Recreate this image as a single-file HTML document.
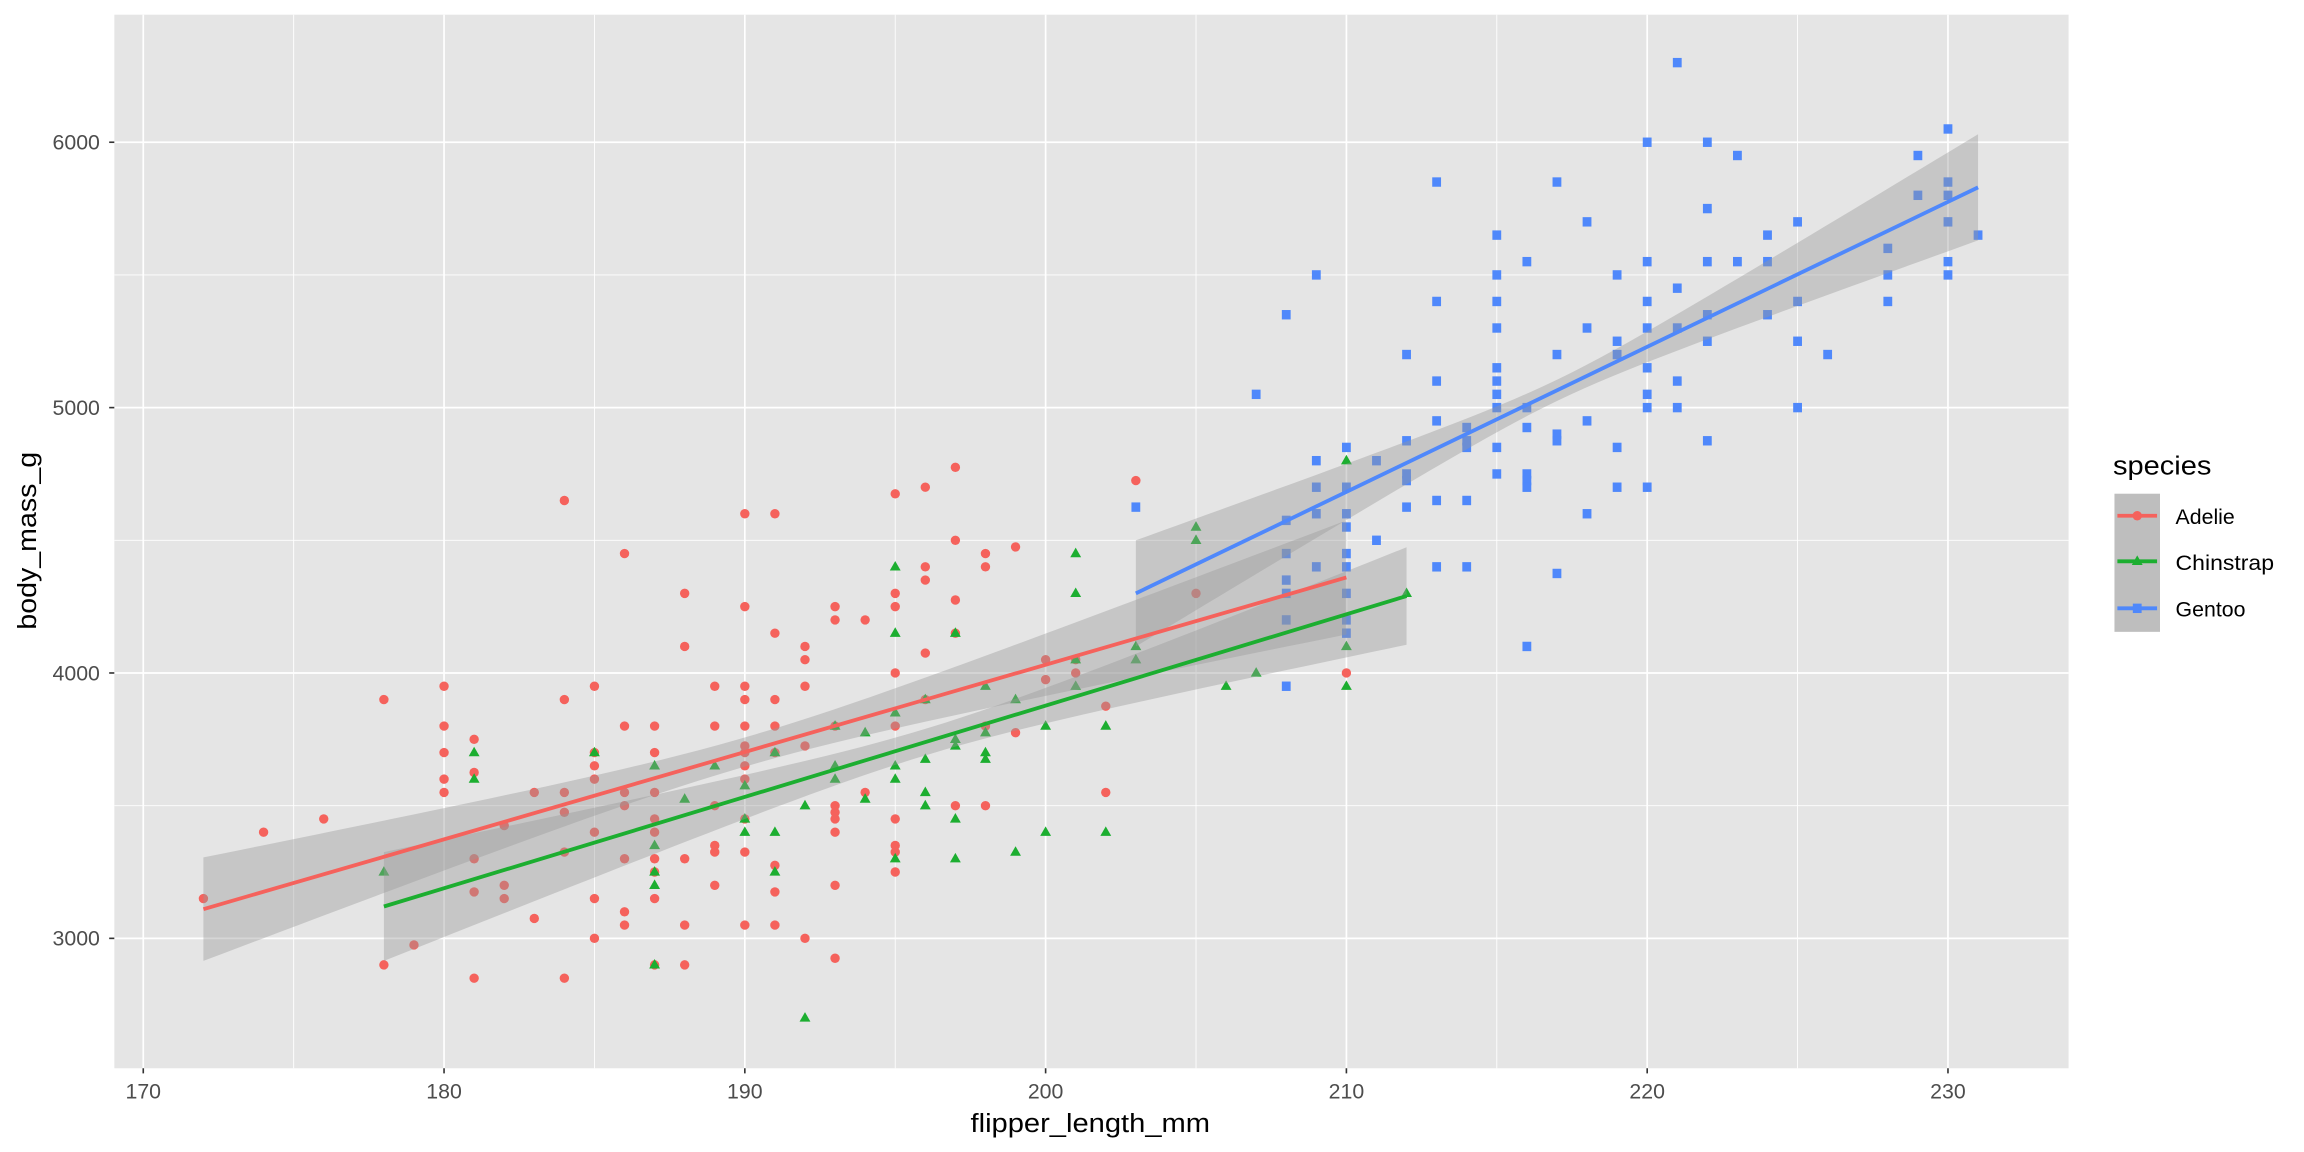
<!DOCTYPE html>
<html><head><meta charset="utf-8"><style>
html,body{margin:0;padding:0;background:#fff}
svg{display:block}
text{font-family:"Liberation Sans",Arial,sans-serif}
</style></head><body>
<svg id="s" width="2304" height="1152" viewBox="0 0 1568 784" xmlns="http://www.w3.org/2000/svg">
<rect x="0" y="0" width="1568" height="784" fill="#fff"/>
<rect x="77.8" y="10" width="1330" height="717" fill="#e5e5e5"/>
<g id="grid"></g>
<g id="pts"></g>
<g id="rib"></g>
<g id="lines"></g>
<g id="ticks" fill="#4d4d4d" font-size="14.5"></g>
<text x="742" y="770.5" font-size="17.5" text-anchor="middle" fill="#000" textLength="163" lengthAdjust="spacingAndGlyphs">flipper_length_mm</text>
<text transform="translate(24.5,368) rotate(-90)" font-size="17.5" text-anchor="middle" fill="#000" textLength="121" lengthAdjust="spacingAndGlyphs">body_mass_g</text>
<text x="1438" y="323" font-size="17.5" fill="#000" textLength="67" lengthAdjust="spacingAndGlyphs">species</text>
<rect x="1439" y="336" width="31" height="94" fill="#bebebe"/>
<g id="leg"></g>
<text x="1480.6" y="356.7" font-size="14.5">Adelie</text>
<text x="1480.6" y="388" font-size="14.5" textLength="67" lengthAdjust="spacingAndGlyphs">Chinstrap</text>
<text x="1480.6" y="419.5" font-size="14.5">Gentoo</text>
</svg>
<script>
const NS="http://www.w3.org/2000/svg";
const X=v=>97.5+(v-170)*20.47, Y=m=>96.8+(6000-m)*0.1806;
const L=77.8,R=1407.8,T=10,B=727;
function el(p,t,a){const e=document.createElementNS(NS,t);for(const k in a)e.setAttribute(k,a[k]);document.getElementById(p).appendChild(e);return e;}
for(let v=175;v<=225;v+=10)el("grid","line",{x1:X(v),x2:X(v),y1:T,y2:B,stroke:"#fff","stroke-width":0.6});
for(let m=2500;m<=6000;m+=1000)el("grid","line",{x1:L,x2:R,y1:Y(m),y2:Y(m),stroke:"#fff","stroke-width":0.6});
for(let v=170;v<=230;v+=10){el("grid","line",{x1:X(v),x2:X(v),y1:T,y2:B,stroke:"#fff","stroke-width":1.15});
 el("ticks","line",{x1:X(v),x2:X(v),y1:B,y2:B+3.5,stroke:"#333","stroke-width":1.1});
 el("ticks","text",{x:X(v),y:747.5,"text-anchor":"middle"}).textContent=v;}
for(let m=3000;m<=6000;m+=1000){el("grid","line",{x1:L,x2:R,y1:Y(m),y2:Y(m),stroke:"#fff","stroke-width":1.15});
 el("ticks","line",{x1:L-3.5,x2:L,y1:Y(m),y2:Y(m),stroke:"#333","stroke-width":1.1});
 el("ticks","text",{x:68,y:Y(m)+5,"text-anchor":"end"}).textContent=m;}
const A=[[172,3150],[174,3400],[176,3450],[178,3900],[178,2900],[179,2975],[180,3950],[180,3800],[180,3700],[180,3600],[180,3550],[181,3750],[181,3625],[181,3300],[181,3175],[181,2850],[182,3425],[182,3200],[182,3150],[183,3550],[183,3075],[184,4650],[184,3900],[184,3550],[184,3475],[184,3325],[184,2850],[185,3950],[185,3700],[185,3650],[185,3600],[185,3400],[185,3150],[185,3000],[186,4450],[186,3800],[186,3550],[186,3500],[186,3300],[186,3100],[186,3050],[187,3800],[187,3700],[187,3550],[187,3450],[187,3400],[187,3300],[187,3250],[187,3150],[187,2900],[188,4300],[188,4100],[188,3300],[188,3050],[188,2900],[189,3950],[189,3800],[189,3500],[189,3350],[189,3325],[189,3200],[190,4600],[190,4250],[190,3950],[190,3900],[190,3800],[190,3725],[190,3700],[190,3650],[190,3600],[190,3450],[190,3325],[190,3050],[191,4600],[191,4150],[191,3900],[191,3800],[191,3700],[191,3275],[191,3175],[191,3050],[192,4100],[192,4050],[192,3950],[192,3725],[192,3000],[193,4250],[193,4200],[193,3800],[193,3500],[193,3475],[193,3450],[193,3400],[193,3200],[193,2925],[194,4200],[194,3550],[195,4675],[195,4300],[195,4250],[195,4000],[195,3800],[195,3450],[195,3350],[195,3325],[195,3250],[196,4700],[196,4400],[196,4350],[196,4075],[196,3900],[197,4775],[197,4500],[197,4275],[197,4150],[197,3500],[198,4450],[198,4400],[198,3800],[198,3500],[199,4475],[199,3775],[200,4050],[200,3975],[201,4050],[201,4000],[202,3875],[202,3550],[203,4725],[205,4300],[210,4000]];
const C=[[178,3250],[181,3700],[181,3600],[185,3700],[187,3650],[187,3350],[187,3250],[187,3200],[187,2900],[188,3525],[189,3650],[190,3575],[190,3450],[190,3400],[191,3700],[191,3400],[191,3250],[192,3500],[192,2700],[193,3800],[193,3650],[193,3600],[194,3775],[194,3525],[195,4400],[195,4150],[195,3850],[195,3650],[195,3600],[195,3300],[196,3900],[196,3675],[196,3550],[196,3500],[197,4150],[197,3750],[197,3725],[197,3450],[197,3300],[198,3950],[198,3700],[198,3675],[198,3775],[199,3900],[199,3325],[200,3800],[200,3400],[201,4450],[201,4300],[201,4050],[201,3950],[202,3800],[202,3400],[203,4100],[203,4050],[205,4550],[205,4500],[206,3950],[207,4000],[210,4800],[210,4100],[210,3950],[212,4300]];
const G=[[203,4625],[207,5050],[208,5350],[208,4575],[208,4450],[208,4350],[208,4300],[208,4200],[208,3950],[209,5500],[209,4800],[209,4700],[209,4600],[209,4400],[210,4850],[210,4700],[210,4600],[210,4550],[210,4450],[210,4400],[210,4300],[210,4200],[210,4150],[211,4800],[211,4500],[212,5200],[212,4875],[212,4750],[212,4725],[212,4625],[213,5850],[213,5400],[213,5100],[213,4950],[213,4650],[213,4400],[214,4925],[214,4875],[214,4850],[214,4650],[214,4400],[215,5650],[215,5500],[215,5400],[215,5300],[215,5150],[215,5100],[215,5050],[215,5000],[215,4850],[215,4750],[216,5550],[216,5000],[216,4925],[216,4750],[216,4725],[216,4700],[216,4100],[217,5850],[217,5200],[217,4900],[217,4875],[217,4375],[218,5700],[218,5300],[218,4950],[218,4600],[219,5500],[219,5250],[219,5200],[219,4850],[219,4700],[220,6000],[220,5550],[220,5400],[220,5300],[220,5150],[220,5050],[220,5000],[220,4700],[221,6300],[221,5450],[221,5300],[221,5100],[221,5000],[222,6000],[222,5750],[222,5550],[222,5350],[222,5250],[222,4875],[223,5950],[223,5550],[224,5650],[224,5550],[224,5350],[225,5700],[225,5400],[225,5250],[225,5000],[226,5200],[228,5600],[228,5500],[228,5400],[229,5950],[229,5800],[230,6050],[230,5850],[230,5800],[230,5700],[230,5550],[230,5500],[231,5650]];
const col=["#F5625C","#1CAE30","#4F88FB"];
A.forEach(p=>el("pts","circle",{cx:X(p[0]),cy:Y(p[1]),r:3.2,fill:col[0]}));
C.forEach(p=>{const x=X(p[0]),y=Y(p[1]);el("pts","polygon",{points:`${x},${y-4} ${x-3.7},${y+2.5} ${x+3.7},${y+2.5}`,fill:col[1]});});
G.forEach(p=>el("pts","rect",{x:X(p[0])-3,y:Y(p[1])-3.2,width:6,height:6.4,fill:col[2]}));
const fits=[[172,3110,210,4360,190,55,108],[178,3120,212,4290,196,50,122],[203,4300,231,5830,217,40,196]];
fits.forEach((f,i)=>{const [x0,y0,x1,y1,xm,h0,k]=f;const sl=(y1-y0)/(x1-x0);
 let up=[],dn=[];for(let j=0;j<=60;j++){const x=x0+(x1-x0)*j/60;const y=y0+sl*(x-x0);const h=Math.sqrt(h0*h0+k*(x-xm)*(x-xm));
 up.push(X(x)+","+Y(y+h));dn.unshift(X(x)+","+Y(y-h));}
 el("rib","polygon",{points:up.concat(dn).join(" "),fill:"#999999","fill-opacity":0.4});});
fits.forEach((f,i)=>{const [x0,y0,x1,y1]=f;el("lines","line",{x1:X(x0),y1:Y(y0),x2:X(x1),y2:Y(y1),stroke:col[i],"stroke-width":2.6});});
[351,382,414].forEach((y,i)=>{el("leg","line",{x1:1441,x2:1468,y1:y,y2:y,stroke:col[i],"stroke-width":2.6});
 if(i==0)el("leg","circle",{cx:1454.5,cy:y,r:3.2,fill:col[0]});
 if(i==1)el("leg","polygon",{points:`1454.5,${y-4} 1450.8,${y+2.5} 1458.2,${y+2.5}`,fill:col[1]});
 if(i==2)el("leg","rect",{x:1451.5,y:y-3.2,width:6,height:6.4,fill:col[2]});});
</script>
</body></html>
